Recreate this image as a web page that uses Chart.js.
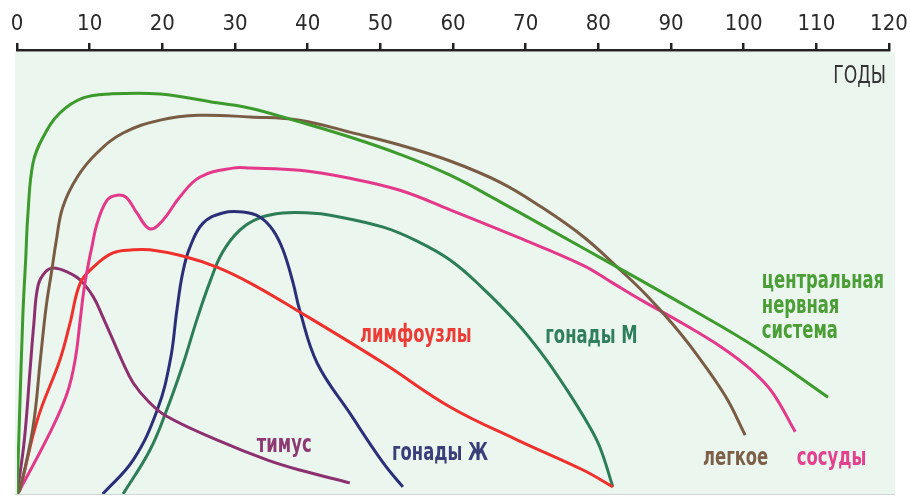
<!DOCTYPE html>
<html>
<head>
<meta charset="utf-8">
<script src="https://cdn.jsdelivr.net/npm/chart.js@4.4.0/dist/chart.umd.min.js"></script>
<style>
  body { margin: 0; background: #fff; }
  #myChart { display: block; }
</style>
</head>
<body>
<canvas id="myChart" width="910" height="496"></canvas>
<script>
// age ticks along the top axis
const ageTicks = [0, 10, 20, 30, 40, 50, 60, 70, 80, 90, 100, 110, 120];

// центральная нервная система
const cnsAges = [0, 0.3, 0.8, 1.2, 1.5, 2.2, 3.6, 5.9, 9.1, 12.8, 19.7, 27.5, 32.1, 38.9, 45.8, 52.7, 59.6, 66.5, 73.3, 82.6, 92.3, 101.6, 111.6];
const cnsValues = [0, 15, 40, 53, 63, 74.5, 80.4, 85.8, 89.2, 90.1, 90.1, 88.1, 86.9, 83.8, 80.4, 76.5, 71.8, 65.8, 59.6, 51.1, 42.1, 33.1, 21.8];

// легкое
const lungAges = [0, 0.4, 2.2, 3.2, 4.0, 4.8, 5.4, 6.3, 8.3, 11, 14.6, 19.7, 25, 32.1, 38.9, 45.8, 52.7, 59.6, 66.5, 72, 77.9, 82.6, 86.5, 90.1, 93.5, 97.5, 100.2];
const lungValues = [0, 1, 15, 30, 42, 50.5, 57, 64.6, 71.4, 76.8, 81.3, 84.2, 85.3, 84.9, 84.2, 81.5, 78.6, 75, 70.2, 64.8, 58, 51.1, 45, 38.5, 31.5, 22, 13.3];

// сосуды
const vesselAges = [0, 0.4, 4.5, 6.9, 8, 8.7, 9.2, 9.8, 10.3, 11, 12.4, 13.8, 15.1, 16.5, 18.3, 20.1, 22.4, 25.2, 29.7, 32.1, 38.9, 45.8, 52.7, 59.6, 68.8, 77.9, 82, 86.1, 91.5, 97, 101, 103.9, 107.1];
const vesselValues = [0, 1, 13.7, 22.7, 30.2, 39.2, 45.9, 51.6, 55.6, 60.8, 66.2, 67.3, 66.7, 63.3, 59.7, 61.7, 66.9, 71.4, 73.4, 73.4, 72.9, 71.1, 68.4, 64, 57.9, 51.5, 47.5, 43.5, 38.5, 33, 28, 23, 14];

// лимфоузлы
const lymphAges = [0, 0.4, 2.8, 5.9, 7.3, 8.7, 10.5, 13.2, 16, 18.3, 22.8, 27.5, 32.1, 38.5, 50.4, 59.6, 68.8, 77.9, 82];
const lymphValues = [0, 1, 16.7, 30.2, 38.5, 47.5, 51.1, 54.3, 55, 55, 53.6, 51.1, 47.5, 41.4, 29.5, 19.6, 12.2, 5.4, 1.6];

// тимус
const thymusAges = [0, 1.0, 1.8, 2.3, 2.9, 3.9, 5, 6.9, 8.7, 10.5, 11.8, 13.2, 14.6, 16, 18, 20.6, 27.5, 34.4, 38.9, 45.8];
const thymusValues = [0, 12, 28, 38, 47, 50, 50.9, 50, 48.2, 44.4, 39.9, 34.7, 29.5, 25, 21, 17.5, 12.2, 7.7, 5.4, 2.5];

// гонады Ж
const gonadFAges = [11.8, 16, 19.3, 21.1, 22, 22.8, 23.8, 25.6, 28.3, 31.1, 33.4, 35.2, 36.6, 38, 38.9, 41.3, 45.8, 50.4, 53.1];
const gonadFValues = [0, 7.7, 18.9, 30.2, 41.4, 49.8, 55.6, 61, 63.3, 63.5, 62.4, 59.5, 55, 47.5, 41.4, 29.5, 18.2, 7, 1.6];

// гонады М
const gonadMAges = [14.6, 18.3, 20.6, 22.8, 24.8, 26.6, 28.3, 30.7, 33.4, 36.6, 40.3, 43.1, 50.4, 55, 59.6, 64, 68.8, 72.5, 75.7, 78.5, 80.2, 82];
const gonadMValues = [0, 9.9, 18.9, 29, 39.5, 48, 54.5, 59.5, 62.2, 63.3, 63.3, 62.8, 60.1, 57, 52.7, 46.5, 38.5, 31, 23.4, 16, 10.6, 1.6];

const fontFamily = "'Liberation Sans Narrow', 'DejaVu Sans Condensed', sans-serif";

// builds the {x, y} points for one curve
function toPoints(ages, values) {
  return ages.map((a, i) => ({ x: a, y: values[i] }));
}

// text labels next to the curves, anchored in chart units
const curveLabels = [
  { lines: ["центральная", "нервная", "система"], age: 102.5, value: 46.4, color: "#4a9e35" },
  { lines: ["гонады М"], age: 72.7, value: 34, color: "#2f7f5c" },
  { lines: ["лимфоузлы"], age: 47.2, value: 34.2, color: "#ee3b36" },
  { lines: ["тимус"], age: 33, value: 9.5, color: "#8d3a74" },
  { lines: ["гонады Ж"], age: 51.6, value: 7.7, color: "#3a3f7a" },
  { lines: ["легкое"], age: 94.4, value: 6.5, color: "#7b5f48" },
  { lines: ["сосуды"], age: 107.3, value: 6.5, color: "#e3408e" },
];

// squeezed text, the original uses a condensed face
function narrowText(ctx, text, x, y, squeeze) {
  ctx.save();
  ctx.translate(x, y);
  ctx.scale(squeeze, 1);
  ctx.fillText(text, 0, 0);
  ctx.restore();
}

// mint background behind the curves, plus the labels on top
const decorPlugin = {
  id: "decor",
  beforeDatasetsDraw(chart) {
    const { ctx, chartArea } = chart;
    ctx.save();
    ctx.fillStyle = "#eaf6ee";
    ctx.fillRect(chartArea.left - 2, chartArea.top + 2, chartArea.right - chartArea.left + 8, chartArea.bottom - chartArea.top - 2);
    ctx.strokeStyle = "#cfd6d2";
    ctx.lineWidth = 1;
    ctx.beginPath();
    ctx.moveTo(chartArea.left - 2, chartArea.bottom + 0.5);
    ctx.lineTo(chartArea.right + 6, chartArea.bottom + 0.5);
    ctx.stroke();
    ctx.restore();
  },
  afterDatasetsDraw(chart) {
    const { ctx, scales } = chart;
    ctx.save();
    ctx.textBaseline = "alphabetic";
    ctx.textAlign = "left";
    ctx.font = "bold 24px " + fontFamily;
    curveLabels.forEach((lbl) => {
      const x = scales.x.getPixelForValue(lbl.age);
      const y = scales.y.getPixelForValue(lbl.value);
      ctx.fillStyle = lbl.color;
      lbl.lines.forEach((t, i) => narrowText(ctx, t, x, y + i * 25, 0.76));
    });
    // axis caption
    ctx.fillStyle = "#333";
    ctx.font = "24px " + fontFamily;
    ctx.textAlign = "right";
    narrowText(ctx, "ГОДЫ", scales.x.getPixelForValue(120) - 3, 83, 0.8);
    ctx.restore();
  },
};

function makeDataset(ages, values, color) {
  return {
    data: toPoints(ages, values),
    borderColor: color,
    borderWidth: 3,
    pointRadius: 0,
    tension: 0.4,
    fill: false,
  };
}

new Chart(document.getElementById("myChart"), {
  type: "line",
  data: {
    datasets: [
      makeDataset(cnsAges, cnsValues, "#3d9a2c"),
      makeDataset(lungAges, lungValues, "#7a5c45"),
      makeDataset(vesselAges, vesselValues, "#e4388a"),
      makeDataset(lymphAges, lymphValues, "#f0302c"),
      makeDataset(thymusAges, thymusValues, "#8c3070"),
      makeDataset(gonadFAges, gonadFValues, "#2b2f78"),
      makeDataset(gonadMAges, gonadMValues, "#2c7d58"),
    ],
  },
  options: {
    responsive: false,
    animation: false,
    layout: { padding: { left: 17, right: 21, top: 0, bottom: 2 } },
    plugins: { legend: { display: false }, tooltip: { enabled: false } },
    scales: {
      x: {
        type: "linear",
        position: "top",
        min: 0,
        max: 120,
        afterBuildTicks(scale) {
          scale.ticks = ageTicks.map((v) => ({ value: v }));
        },
        ticks: { padding: 6, color: "#2a2a2a", font: { family: fontFamily, size: 22 } },
        grid: { drawOnChartArea: false, drawTicks: true, tickLength: 7, color: "#222", lineWidth: 2.5 },
        border: { color: "#222", width: 2.5 },
        afterFit(scale) {
          scale.height = 50;
          scale.paddingLeft = 0;
          scale.paddingRight = 0;
        },
      },
      y: { display: false, min: 0, max: 100 },
    },
  },
  plugins: [decorPlugin],
});
</script>
</body>
</html>
